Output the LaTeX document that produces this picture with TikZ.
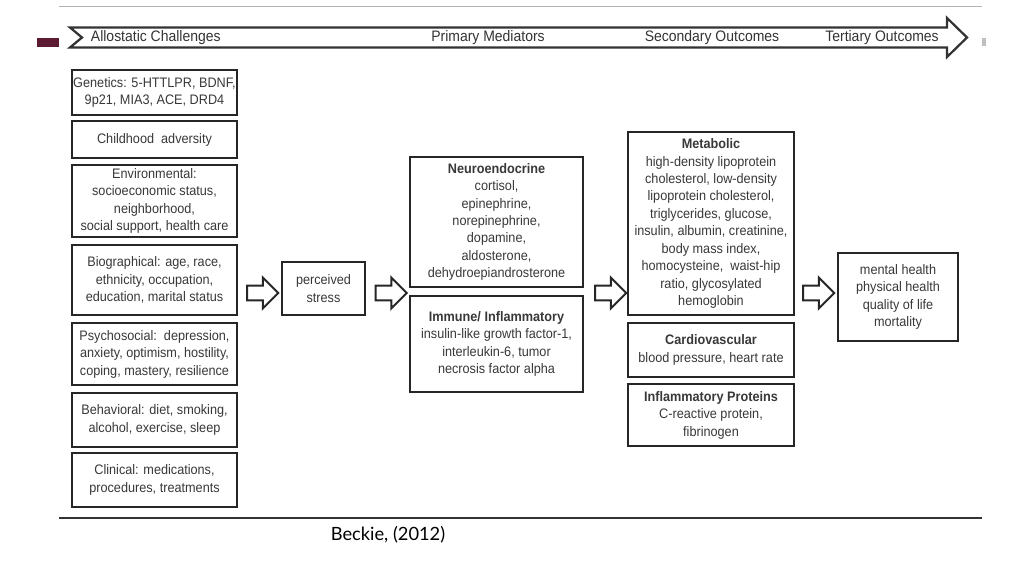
\documentclass[tikz,border=0pt]{standalone}
\usepackage{fontspec}
\setmainfont{Liberation Sans}[FakeStretch=0.92]
\newfontfamily\citefont{Lato}
\usepackage{tikz}
\usetikzlibrary{shapes.arrows}
\usepackage{xcolor}
\definecolor{maroon}{HTML}{5C1A33}
\definecolor{boxtext}{HTML}{383838}

\begin{document}
\begin{tikzpicture}[x=0.025cm,y=-0.025cm,line cap=butt,
  box/.style 2 args={draw=black!85,line width=1.6pt,align=center,inner sep=1pt,
    text=boxtext,font=\fontsize{9.8}{12.4}\selectfont,
    minimum width=#1*0.025cm,minimum height=#2*0.025cm},
  fatarrow/.style={single arrow,draw=black!85,line width=1.4pt,fill=white,
    inner xsep=0pt,inner ysep=0.16cm,minimum height=0.775cm,
    single arrow head extend=0.2cm},
  banner/.style={font=\fontsize{10.8}{12}\selectfont,text=black!80}]
\useasboundingbox (0,0) rectangle (1024,576);
% frame lines
\draw[gray!60,line width=0.6pt] (59,6) -- (982,6);
\draw[black!80,line width=1pt] (59,518) -- (982,518);
\fill[maroon] (37,38) rectangle (59,47);
\fill[gray!50] (982,38) rectangle (986,46);
% banner arrow
\draw[black!80,line width=1.6pt,line join=miter] (70,27.5) -- (947,27.5) -- (947,18) -- (967,37.5)
  -- (947,57) -- (947,47.5) -- (70,47.5) -- (82,37.5) -- cycle;
\node[banner,anchor=west] (challenges) at (86,38) {Allostatic Challenges};
\node[banner] (primary) at (488,38) {Primary Mediators};
\node[banner] (secondary) at (712,38) {Secondary Outcomes};
\node[banner] (tertiary) at (882,38) {Tertiary Outcomes};
% challenges
\node[box={165}{45}] (genetics) at (154.5,92.5) {Genetics: 5-HTTLPR, BDNF,\\9p21, MIA3, ACE, DRD4};
\node[box={165}{37}] (childhood) at (154.5,139.5) {Childhood\ \ adversity};
\node[box={165}{72}] (environ) at (154.5,201) {Environmental:\\socioeconomic status,\\neighborhood,\\social support, health care};
\node[box={165}{70}] (biograph) at (154.5,280) {Biographical: age, race,\\ethnicity, occupation,\\education, marital status};
\node[box={165}{62}] (psycho) at (154.5,354) {Psychosocial:\ \ depression,\\anxiety, optimism, hostility,\\coping, mastery, resilience};
\node[box={165}{54}] (behav) at (154.5,420) {Behavioral: diet, smoking,\\alcohol, exercise, sleep};
\node[box={165}{54}] (clinical) at (154.5,480) {Clinical: medications,\\procedures, treatments};
% stress and mediators
\node[box={83}{53}] (stress) at (323.5,288.5) {perceived\\stress};
\node[box={173}{130}] (neuro) at (496.5,222) {\textbf{Neuroendocrine}\\cortisol,\\epinephrine,\\norepinephrine,\\dopamine,\\aldosterone,\\dehydroepiandrosterone};
\node[box={173}{96}] (immune) at (496.5,344) {\textbf{Immune/ Inflammatory}\\insulin-like growth factor-1,\\interleukin-6, tumor\\necrosis factor alpha};
% secondary outcomes
\node[box={166}{183}] (metab) at (711,223.5) {\textbf{Metabolic}\\high-density lipoprotein\\cholesterol, low-density\\lipoprotein cholesterol,\\triglycerides, glucose,\\insulin, albumin, creatinine,\\body mass index,\\homocysteine,\ \ waist-hip\\ratio, glycosylated\\hemoglobin};
\node[box={166}{54}] (cardio) at (711,350) {\textbf{Cardiovascular}\\blood pressure, heart rate};
\node[box={166}{62}] (inflam) at (711,415) {\textbf{Inflammatory Proteins}\\C-reactive protein,\\fibrinogen};
% tertiary outcomes
\node[box={120}{88}] (outcomes) at (898,297) {mental health\\physical health\\quality of life\\mortality};
% block arrows
\node[fatarrow] (arrowA) at (259,293) {};
\node[fatarrow] (arrowB) at (387.5,293) {};
\node[fatarrow] (arrowC) at (607,293) {};
\node[fatarrow] (arrowD) at (815,293) {};
% citation
\node[font=\citefont\fontsize{13}{15}\selectfont] (cite) at (388,535) {Beckie, (2012)};
\end{tikzpicture}
\end{document}
